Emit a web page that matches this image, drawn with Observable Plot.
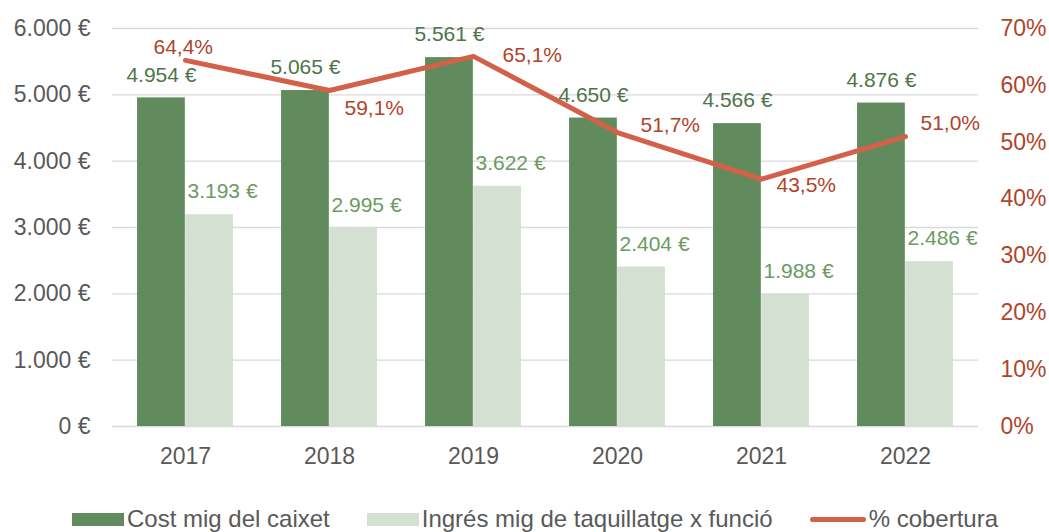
<!DOCTYPE html>
<html>
<head>
<meta charset="utf-8">
<script src="https://cdn.jsdelivr.net/npm/d3@7"></script>
<script src="https://cdn.jsdelivr.net/npm/@observablehq/plot@0.6"></script>
<style>
  html, body { margin: 0; padding: 0; background: #fff; }
  #wrap { position: relative; width: 1049px; height: 532px; font-family: "Liberation Sans", Arial, sans-serif; }
  #legend { position: absolute; left: 72px; top: 505px; display: flex; align-items: center; gap: 37px; font-size: 24px; color: #595959; white-space: nowrap; }
  .item { display: flex; align-items: center; gap: 3px; }
  .sw { width: 52px; height: 13px; }
  .ln { width: 56px; height: 5px; border-radius: 3px; }
</style>
</head>
<body>
<div id="wrap"><div id="chart"></div><div id="legend"></div></div>
<script>
const years = ["2017", "2018", "2019", "2020", "2021", "2022"];
const cost = [4954, 5065, 5561, 4650, 4566, 4876];
const income = [3193, 2995, 3622, 2404, 1988, 2486];
const coverage = [64.4, 59.1, 65.1, 51.7, 43.5, 51.0];
const leftTicks = [0, 1000, 2000, 3000, 4000, 5000, 6000];
const rightTicks = [0, 10, 20, 30, 40, 50, 60, 70];
const seriesNames = ["Cost mig del caixet", "Ingrés mig de taquillatge x funció", "% cobertura"];

const colors = { dark: "#618b5c", light: "#d4e0d2", line: "#d3614a", darkText: "#4e7549", lightText: "#6b9a64", pctText: "#b0442a", axis: "#595959", grid: "#d9d9d9" };

const W = 1049, H = 490, mL = 112, mR = 71, mT = 28, mB = 64;
const yMax = 6000, pMax = 70;
const toY = p => p * yMax / pMax;
const step = (W - mL - mR) / years.length;

const loc = d3.formatLocale({ decimal: ",", thousands: ".", grouping: [3], currency: ["", " €"] });
const fmtEuro = v => loc.format(",d")(v) + " €";
const fmtPct = v => loc.format(".1f")(v) + "%";

const rows = years.map((y, i) => ({ year: y, cost: cost[i], income: income[i], pct: coverage[i], i }));

// label offsets for % labels (placement only)
const pctPlace = [[-32, -13], [15, 18], [29, -1], [23, -7], [15, 6], [15, -13]];

const chart = Plot.plot({
  width: W, height: H,
  marginLeft: mL, marginRight: mR, marginTop: mT, marginBottom: mB,
  style: { fontFamily: "Liberation Sans, Arial, sans-serif", background: "#fff" },
  x: { type: "band", domain: years, padding: 0, label: null },
  y: { domain: [0, yMax], label: null },
  marks: [
    Plot.gridY(leftTicks, { stroke: colors.grid, strokeOpacity: 1, strokeWidth: 1.4 }),
    Plot.barY(rows, { x: "year", y: "cost", fill: colors.dark, insetLeft: step / 6, insetRight: step / 2 }),
    Plot.barY(rows, { x: "year", y: "income", fill: colors.light, insetLeft: step / 2, insetRight: step / 6 }),
    Plot.line(rows, { x: "year", y: d => toY(d.pct), stroke: colors.line, strokeWidth: 5, strokeLinecap: "round", strokeLinejoin: "round" }),
    Plot.text(rows, { x: "year", y: "cost", text: d => fmtEuro(d.cost), dx: -step / 6, dy: -23, fill: colors.darkText, fontSize: 21 }),
    Plot.text(rows, { x: "year", y: "income", text: d => fmtEuro(d.income), textAnchor: "start", dx: 2, dy: -23, fill: colors.lightText, fontSize: 21 }),
    ...rows.map((r, i) => Plot.text([r], { x: "year", y: d => toY(d.pct), text: d => fmtPct(d.pct), textAnchor: "start", dx: pctPlace[i][0], dy: pctPlace[i][1], fill: colors.pctText, fontSize: 21 })),
    Plot.axisY(leftTicks, { tickFormat: fmtEuro, tickSize: 0, tickPadding: 22, fontSize: 23, color: colors.axis, label: null }),
    Plot.axisY(rightTicks.map(toY), { anchor: "right", tickFormat: d => Math.round(d * pMax / yMax) + "%", tickSize: 0, tickPadding: 22, fontSize: 23, color: colors.pctText, label: null }),
    Plot.axisX({ tickSize: 0, tickPadding: 21, fontSize: 23, color: colors.axis, label: null })
  ]
});
document.getElementById("chart").appendChild(chart);

const legend = document.getElementById("legend");
const swatches = [
  `<span class="sw" style="background:${colors.dark}"></span>`,
  `<span class="sw" style="background:${colors.light}"></span>`,
  `<span class="ln" style="background:${colors.line}"></span>`
];
seriesNames.forEach((name, i) => {
  const it = document.createElement("div");
  it.className = "item";
  it.innerHTML = swatches[i] + `<span>${name}</span>`;
  legend.appendChild(it);
});
</script>
</body>
</html>
